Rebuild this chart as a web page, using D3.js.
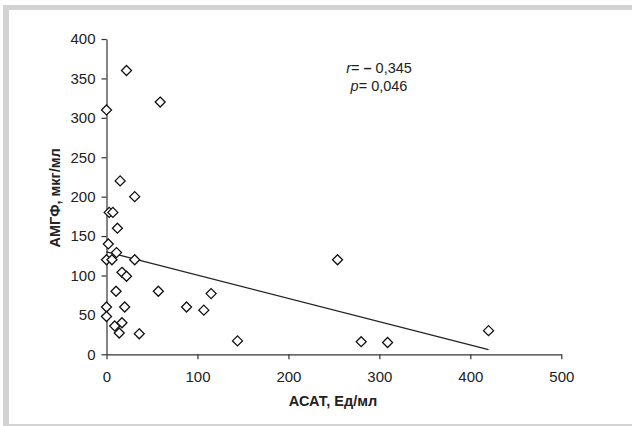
<!DOCTYPE html>
<html><head><meta charset="utf-8">
<script src="https://cdn.jsdelivr.net/npm/d3@7"></script>
<style>body{margin:0;background:#fff}svg{display:block}</style>
</head><body>
<svg id="c" width="632" height="426"></svg>
<script>
const asat = [22,0,59,15,31,3,7,12,2,11,0,6,31,17,22,10.5,57,0,20,88,107,115,0,9,17,14,36,144,280,309,420,254];
const amgf = [360,310,320,220,200,180,180,160,140,129,120,120,120,104,99,80,80,60,60,60,56,77,48,36,40,27,26,17,16,15,30,120];
const trendX = [0,420];
const trendY = [130,6];
const xTicks = [0,100,200,300,400,500];
const yTicks = [0,50,100,150,200,250,300,350,400];
const xTitle = "АСАТ, Ед/мл";
const yTitle = "АМГФ, мкг/мл";

const svg = d3.select("#c");
const font = "Liberation Sans, Arial, sans-serif";
// frame
svg.append("rect").attr("x",3).attr("y",5).attr("width",629).attr("height",5).attr("fill","#d3d3d3");
svg.append("rect").attr("x",3).attr("y",5).attr("width",6).attr("height",421).attr("fill","#d3d3d3");
svg.append("rect").attr("x",3).attr("y",424).attr("width",629).attr("height",2).attr("fill","#d3d3d3");

const x = d3.scaleLinear().domain([0,500]).range([106.5,561.3]);
const y = d3.scaleLinear().domain([0,400]).range([354.3,39]);

const gx = svg.append("g").attr("transform",`translate(0,${y(0)})`)
  .call(d3.axisBottom(x).tickValues(xTicks).tickSize(5).tickSizeOuter(0).tickPadding(12));
const gy = svg.append("g").attr("transform",`translate(${x(0)},0)`)
  .call(d3.axisLeft(y).tickValues(yTicks).tickSize(5).tickSizeOuter(0).tickPadding(6));
[gx,gy].forEach(g=>{
  g.select(".domain").attr("stroke","#333").attr("stroke-width",1.2);
  g.selectAll(".tick line").attr("stroke","#333").attr("stroke-width",1.2);
  g.selectAll(".tick text").attr("fill","#222").attr("font-family",font).attr("font-size",15);
});

svg.append("line").attr("x1",x(trendX[0])).attr("y1",y(trendY[0]))
  .attr("x2",x(trendX[1])).attr("y2",y(trendY[1])).attr("stroke","#222").attr("stroke-width",1.3);

const s = 5;
svg.append("g").selectAll("path").data(asat.map((v,i)=>[v,amgf[i]])).join("path")
  .attr("d",d=>{const cx=x(d[0]),cy=y(d[1]);return `M${cx},${cy-s}L${cx+s},${cy}L${cx},${cy+s}L${cx-s},${cy}Z`;})
  .attr("fill","#fff").attr("stroke","#111").attr("stroke-width",1.3);

svg.append("text").attr("x",333).attr("y",406).attr("text-anchor","middle")
  .attr("font-family",font).attr("font-size",14.5).attr("font-weight","bold").attr("fill","#222").text(xTitle);
svg.append("text").attr("transform",`translate(60,198) rotate(-90)`).attr("text-anchor","middle")
  .attr("font-family",font).attr("font-size",14.5).attr("font-weight","bold").attr("fill","#222").text(yTitle);

const t1 = svg.append("text").attr("x",379).attr("y",73).attr("text-anchor","middle")
  .attr("font-family",font).attr("font-size",14.5).attr("fill","#222");
t1.append("tspan").attr("font-style","italic").text("r");
t1.append("tspan").text("= ");
t1.append("tspan").attr("font-weight","bold").text("–");
t1.append("tspan").text(" 0,345");
const t2 = svg.append("text").attr("x",379).attr("y",91).attr("text-anchor","middle")
  .attr("font-family",font).attr("font-size",14.5).attr("fill","#222");
t2.append("tspan").attr("font-style","italic").text("p");
t2.append("tspan").text("= 0,046");
</script>
</body></html>
